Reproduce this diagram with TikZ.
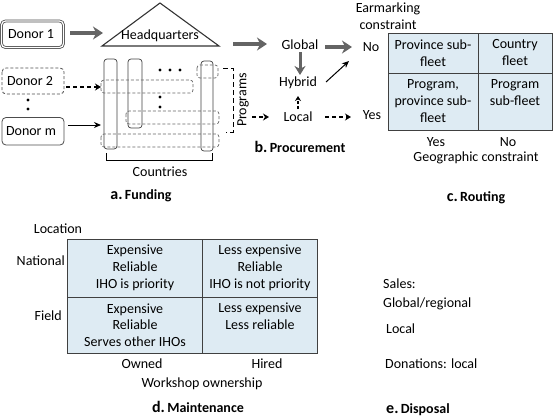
\documentclass[tikz,border=0pt]{standalone}
\usepackage{fontspec}
\setmainfont{Carlito}
\usetikzlibrary{arrows.meta}
\definecolor{cellblue}{RGB}{222,235,243}
\definecolor{arrgray}{RGB}{100,100,100}
\tikzset{
  txt/.style={inner sep=0pt, font=\fontsize{14}{17}\selectfont},
  cell/.style={txt, align=center},
  bigarrow/.style={draw=arrgray, fill=arrgray, line width=3.6pt, -{Stealth[length=10pt,width=13pt]}},
  thinarrow/.style={draw=black, line width=1pt, -{Stealth[length=7pt,width=6pt]}},
  dasharrow/.style={draw=black, line width=1.2pt, dashed, dash pattern=on 4pt off 3pt, -{Stealth[length=6pt,width=7pt]}},
  donorbox/.style={draw=black!70, rounded corners=4pt, line width=0.8pt},
  vbar/.style={draw=black!75, rounded corners=3pt, line width=0.7pt},
  hbar/.style={draw=black!60, dashed, dash pattern=on 3pt off 2pt, rounded corners=3pt, line width=0.7pt},
  dotn/.style={circle, fill=black, inner sep=0pt, minimum size=3.3pt},
  title/.style={inner sep=0pt, font=\fontsize{14}{16}\selectfont\bfseries},
}
\begin{document}
\begin{tikzpicture}[x=1pt,y=-1pt]
\useasboundingbox (0,0) rectangle (553,418);
% ---------- a. Funding ----------
\draw[donorbox, double=white, double distance=1.2pt] (1.5,21) rectangle (63.5,47.5);
\node[txt] (d1) at (31,34) {Donor 1};
\coordinate (d1e) at (70,33);
\draw[donorbox, dashed, dash pattern=on 3pt off 2pt] (2,68) rectangle (64,94);
\node[txt] (d2) at (30,81) {Donor 2};
\coordinate (d2e) at (66,87);
\node[dotn] (dv1) at (28,100) {};
\node[dotn] (dv2) at (28,109) {};
\draw[donorbox] (2,117.5) rectangle (64,145);
\node[txt] (dm) at (31,131) {Donor m};
\coordinate (dme) at (68,125);
% headquarters
\draw[line width=1.1pt, draw=black!80, line join=miter] (102,46) -- (160,3) -- (219,46) -- cycle;
\node[txt] (hq) at (160,36) {Headquarters};
\coordinate (hqin) at (103,33);
\draw[bigarrow] (d1e) -- (hqin);
% grid
\draw[vbar] (104,59) rectangle (117,149);
\draw[vbar] (128,59) rectangle (142,128);
\draw[vbar] (201,61) rectangle (213,151);
\draw[hbar] (101,80) rectangle (193,93);
\draw[hbar] (126,111) rectangle (219,124);
\draw[hbar] (101,134) rectangle (219,147);
\draw[hbar] (197,65) rectangle (218,78);
\node[dotn] (gh1) at (160,70) {};
\node[dotn] (gh2) at (170,70) {};
\node[dotn] (gh3) at (180,70) {};
\node[dotn] (gv1) at (160,97) {};
\node[dotn] (gv2) at (160,107) {};
\coordinate (g2) at (101,87);
\coordinate (gm) at (101,125);
\draw[dasharrow] (d2e) -- (g2);
\draw[thinarrow] (dme) -- (gm);
% countries bracket
\draw[line width=0.9pt] (106,153) -- (106,160) -- (212,160) -- (212,153);
\node[txt] (countries) at (160,172) {Countries};
\node[title] (ta) at (141,196) {{\fontsize{16}{16}\selectfont a.}\,Funding};
% programs bracket
\draw[line width=0.9pt, dashed, dash pattern=on 5pt off 3pt] (223,68) -- (233,68) -- (233,132) -- (226,132);
\node[txt, rotate=90] (prog) at (243,100) {Programs};
% ---------- b. Procurement ----------
\node[txt] (glob) at (300,45) {Global};
\node[txt] (hyb) at (298,83) {Hybrid};
\node[txt] (loc) at (298,117) {Local};
\coordinate (hqe) at (233,44);
\coordinate (globw) at (267,44);
\coordinate (globs) at (300,52);
\coordinate (hybn) at (300,75);
\coordinate (hybs) at (298,96);
\coordinate (locn) at (298,109);
\coordinate (pe) at (252,117);
\coordinate (locw) at (269,117);
\coordinate (ge) at (325,47);
\coordinate (he) at (326,82);
\coordinate (le) at (325,117);
\coordinate (rno) at (352,47);
\coordinate (rhy) at (349,61);
\coordinate (ryes) at (351,117);
\draw[bigarrow] (hqe) -- (globw);
\draw[bigarrow, line width=3pt, -{Stealth[length=9pt,width=11pt]}] (globs) -- (hybn);
\draw[dasharrow, dash pattern=on 3pt off 2pt, -{Stealth[length=5pt,width=6pt]}] (locn) -- (hybs);
\draw[dasharrow] (pe) -- (locw);
\draw[bigarrow] (ge) -- (rno);
\draw[thinarrow] (he) -- (rhy);
\draw[dasharrow] (le) -- (ryes);
\node[title] (tb) at (300,147) {{\fontsize{16}{16}\selectfont b.}\,Procurement};
% ---------- c. Routing ----------
\node[cell] (earm) at (388,16) {Earmarking\\constraint};
\node[txt] (cno) at (371,47) {No};
\node[txt] (cyes) at (372,115) {Yes};
\fill[cellblue] (388,33) rectangle (552,130);
\draw[line width=0.8pt, draw=black!75] (388,33) rectangle (552,130);
\draw[line width=0.8pt, draw=black!75] (478,33) -- (478,130);
\draw[line width=0.8pt, draw=black!75] (388,73) -- (552,73);
\node[cell] (c11) at (433,53) {Province sub-\\fleet};
\node[cell] (c12) at (515,53) {Country\\fleet};
\node[cell] (c21) at (433,101) {Program,\\province sub-\\fleet};
\node[cell] (c22) at (515,93) {Program\\sub-fleet};
\node[txt] (cy) at (436,142) {Yes};
\node[txt] (cn) at (508,142) {No};
\node[txt] (geo) at (476,158) {Geographic constraint};
\node[title] (tc) at (476,198) {{\fontsize{16}{16}\selectfont c.}\,Routing};
% ---------- d. Maintenance ----------
\node[txt] (locat) at (58,229) {Location};
\fill[cellblue] (67,239) rectangle (317,353);
\draw[line width=0.8pt, draw=black!75] (67,239) rectangle (317,353);
\draw[line width=0.8pt, draw=black!75] (202,239) -- (202,353);
\draw[line width=0.8pt, draw=black!75] (67,297) -- (317,297);
\node[txt, anchor=east] (nat) at (65,261) {National};
\node[txt, anchor=east] (fld) at (62,316) {Field};
\node[cell, font=\fontsize{14}{16.7}\selectfont] (m11) at (135,268) {Expensive\\Reliable\\IHO is priority};
\node[cell, font=\fontsize{14}{16.7}\selectfont] (m12) at (260,268) {Less expensive\\Reliable\\IHO is not priority};
\node[cell, font=\fontsize{14}{16.7}\selectfont] (m21) at (135,325) {Expensive\\Reliable\\Serves other IHOs};
\node[cell, font=\fontsize{14}{16.7}\selectfont] (m22) at (260,316.5) {Less expensive\\Less reliable};
\node[txt] (own) at (142,364) {Owned};
\node[txt] (hir) at (267,364) {Hired};
\node[txt] (wso) at (202,384) {Workshop ownership};
\node[title] (td) at (198,407) {{\fontsize{16}{16}\selectfont d.}\,Maintenance};
% ---------- e. Disposal ----------
\node[txt, anchor=west] (sales) at (383,284) {Sales:};
\node[txt, anchor=west] (glreg) at (383,304) {Global/regional};
\node[txt, anchor=west] (eloc) at (386,329) {Local};
\node[txt, anchor=west] (don) at (385,364) {Donations: local};
\node[title, anchor=west] (te) at (386,410) {{\fontsize{16}{16}\selectfont e.}\,Disposal};
\end{tikzpicture}
\end{document}
